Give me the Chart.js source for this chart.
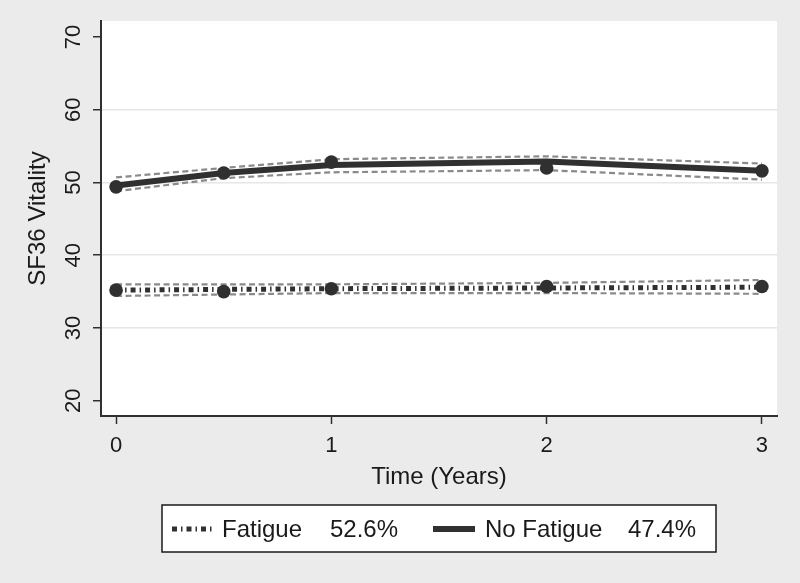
<!DOCTYPE html>
<html>
<head>
<meta charset="utf-8">
<script src="https://cdn.jsdelivr.net/npm/chart.js@4.4.0/dist/chart.umd.min.js"></script>
<style>
  html, body { margin: 0; padding: 0; background: #ebebeb; }
  #wrap { width: 800px; height: 583px; }
</style>
</head>
<body>
<div id="wrap"><canvas id="chart" width="800" height="583"></canvas></div>
<script>
// time points (years) and axis ticks
const times = [0, 0.5, 1, 2, 3];
const xTicks = [0, 1, 2, 3];
const yTicks = [20, 30, 40, 50, 60, 70];
const yGrid = [30, 40, 50, 60];

// Fatigue group
const fatigueObs = [35.2, 35.0, 35.4, 35.7, 35.7];
const fatigueFit = [35.2, 35.3, 35.4, 35.5, 35.6];
const fatigueUpper = [36.0, 36.0, 36.0, 36.2, 36.6];
const fatigueLower = [34.4, 34.6, 34.8, 34.8, 34.7];

// No Fatigue group
const noFatigueObs = [49.4, 51.3, 52.8, 52.0, 51.6];
const noFatigueFit = [49.6, 51.3, 52.4, 52.9, 51.6];
const noFatigueUpper = [50.7, 52.0, 53.2, 53.6, 52.6];
const noFatigueLower = [48.8, 50.6, 51.4, 51.7, 50.4];

const groupNames = ['Fatigue', 'No Fatigue'];
const groupPct = ['52.6%', '47.4%'];

const FONT = "'Liberation Sans', Arial, sans-serif";
const DARK = '#303030';
const CI_GRAY = '#8a8a8a';
const FATIGUE_DASH = [5, 4, 1.5, 4];

const pts = ys => times.map((t, i) => ({ x: t, y: ys[i] }));

function ciLine(ys) {
  return {
    data: pts(ys), borderColor: CI_GRAY, borderWidth: 2.2, borderDash: [6, 3.5],
    pointRadius: 0, fill: false, tension: 0
  };
}

function markers(ys) {
  return {
    data: pts(ys), showLine: false, pointRadius: 6.8, pointBorderWidth: 0,
    pointBackgroundColor: DARK, pointBorderColor: DARK
  };
}

const backgroundPlugin = {
  id: 'bg',
  beforeDraw(chart) {
    const { ctx, chartArea: a } = chart;
    ctx.save();
    ctx.fillStyle = '#ebebeb';
    ctx.fillRect(0, 0, chart.width, chart.height);
    ctx.fillStyle = '#ffffff';
    ctx.fillRect(a.left, a.top, a.right - a.left, a.bottom - a.top);
    ctx.restore();
  }
};

// Stata style boxed legend under the plot
const boxLegend = {
  id: 'boxLegend',
  afterDraw(chart) {
    const ctx = chart.ctx;
    const y = 529;
    ctx.save();
    ctx.fillStyle = '#ffffff';
    ctx.fillRect(162, 505, 554, 47);
    ctx.strokeStyle = '#1a1a1a';
    ctx.lineWidth = 1.5;
    ctx.strokeRect(162, 505, 554, 47);

    ctx.strokeStyle = DARK;
    ctx.lineWidth = 5;
    ctx.setLineDash(FATIGUE_DASH);
    ctx.beginPath(); ctx.moveTo(172, y); ctx.lineTo(213, y); ctx.stroke();

    ctx.lineWidth = 6;
    ctx.setLineDash([]);
    ctx.beginPath(); ctx.moveTo(433, y); ctx.lineTo(475, y); ctx.stroke();

    ctx.fillStyle = '#1a1a1a';
    ctx.font = '24px ' + FONT;
    ctx.textBaseline = 'middle';
    ctx.textAlign = 'left';
    ctx.fillText(groupNames[0], 222, y + 1);
    ctx.fillText(groupPct[0], 330, y + 1);
    ctx.fillText(groupNames[1], 485, y + 1);
    ctx.fillText(groupPct[1], 628, y + 1);
    ctx.restore();
  }
};

new Chart(document.getElementById('chart'), {
  type: 'line',
  data: {
    datasets: [
      markers(noFatigueObs),
      markers(fatigueObs),
      { data: pts(noFatigueFit), borderColor: DARK, borderWidth: 6, pointRadius: 0, tension: 0 },
      { data: pts(fatigueFit), borderColor: DARK, borderWidth: 5, borderDash: FATIGUE_DASH, pointRadius: 0, tension: 0 },
      ciLine(noFatigueUpper),
      ciLine(noFatigueLower),
      ciLine(fatigueUpper),
      ciLine(fatigueLower)
    ]
  },
  options: {
    responsive: false,
    animation: false,
    events: [],
    layout: { padding: { left: 0, top: 21, right: 23, bottom: 87 } },
    plugins: { legend: { display: false }, tooltip: { enabled: false } },
    scales: {
      x: {
        type: 'linear',
        min: -0.07,
        max: 3.07,
        afterBuildTicks: s => { s.ticks = xTicks.map(v => ({ value: v })); },
        afterFit: s => { s.height = 80; s.paddingLeft = 0; s.paddingRight = 0; },
        grid: { drawOnChartArea: false, tickColor: DARK, tickLength: 8, tickWidth: 1.5 },
        border: { color: DARK, width: 2 },
        ticks: { padding: 9, color: '#1a1a1a', font: { family: FONT, size: 22 }, maxRotation: 0 },
        title: {
          display: true, text: 'Time (Years)', color: '#1a1a1a',
          font: { family: FONT, size: 24 }, padding: { top: 0, bottom: 4.6 }
        }
      },
      y: {
        min: 17.9,
        max: 72.2,
        afterBuildTicks: s => { s.ticks = yTicks.map(v => ({ value: v })); },
        afterFit: s => { s.width = 101; s.paddingTop = 0; s.paddingBottom = 0; },
        grid: {
          color: c => (c.tick && yGrid.includes(c.tick.value)) ? '#e6e6e6' : 'rgba(0,0,0,0)',
          lineWidth: 1.5,
          tickColor: DARK, tickLength: 8, tickWidth: 1.5
        },
        border: { color: DARK, width: 2 },
        ticks: {
          padding: 7, color: '#1a1a1a', font: { family: FONT, size: 22 },
          minRotation: 90, maxRotation: 90, crossAlign: 'center'
        },
        title: {
          display: true, text: 'SF36 Vitality', color: '#1a1a1a',
          font: { family: FONT, size: 24 }, padding: { top: 24, bottom: 0 }
        }
      }
    }
  },
  plugins: [backgroundPlugin, boxLegend]
});
</script>
</body>
</html>
